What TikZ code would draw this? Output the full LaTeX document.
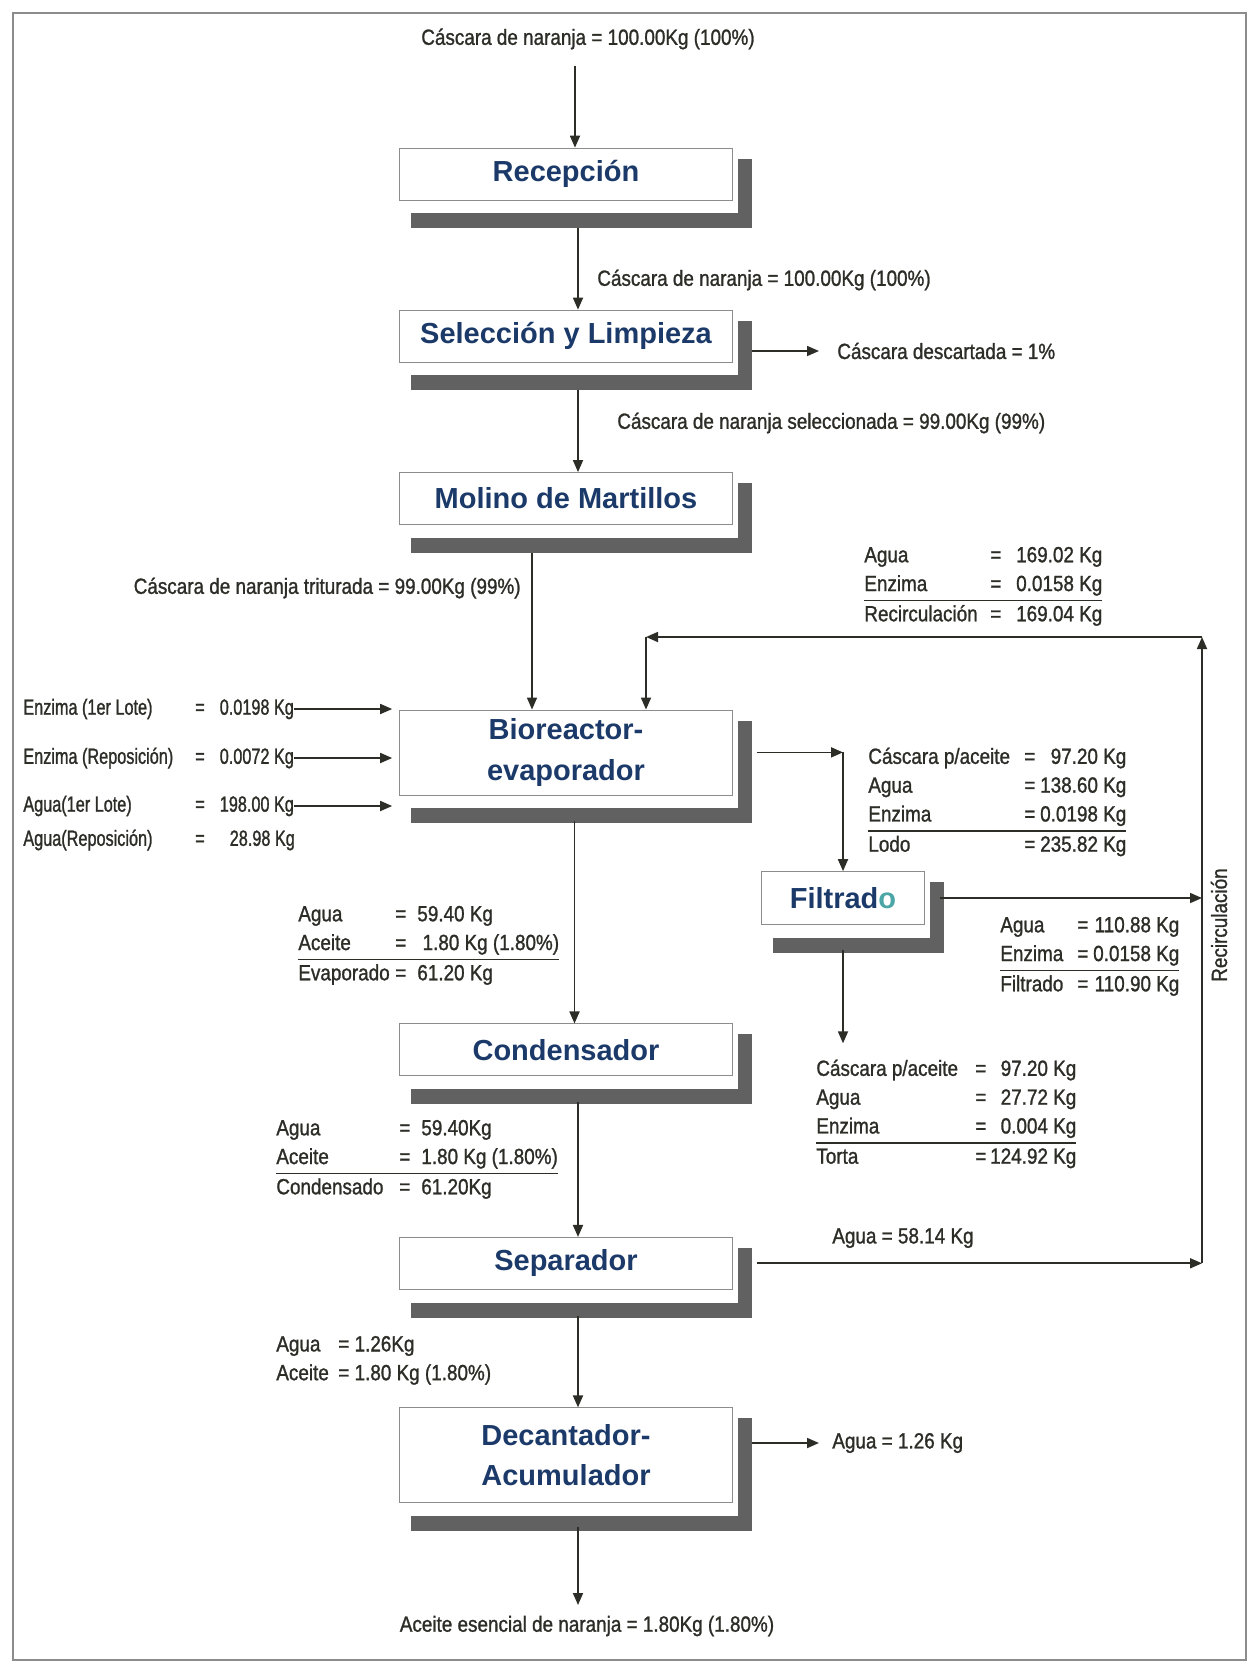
\documentclass[tikz,border=0pt]{standalone}
\usepackage{fontspec}
\usepackage{array}
\setmainfont{Liberation Sans}
\newfontfamily\labelfont[FakeStretch=0.86,FakeBold=1.2]{Liberation Sans}
\newfontfamily\narrowfont[FakeStretch=0.74,FakeBold=1.2]{Liberation Sans}
\usetikzlibrary{arrows.meta,positioning}

\definecolor{boxblue}{RGB}{28,58,105}
\definecolor{inkgray}{RGB}{45,45,40}
\setlength\arrayrulewidth{0.8pt}
\newcolumntype{L}[1]{>{\raggedright\arraybackslash}p{#1}}
\newcolumntype{R}[1]{>{\raggedleft\arraybackslash}p{#1}}
\newcommand\shadowof[1]{%
  \fill[boxshade] ([xshift=.1cm,yshift=-.22cm]#1.north east) rectangle ([xshift=.38cm,yshift=-.56cm]#1.south east);
  \fill[boxshade] ([xshift=.24cm,yshift=-.26cm]#1.south west) rectangle ([xshift=.38cm,yshift=-.56cm]#1.south east);}

\begin{document}
\begin{tikzpicture}[x=0.02cm,y=-0.02cm,node distance=3cm,on grid]
  \tikzstyle{process}=[rectangle,draw=black!45,fill=white,minimum width=6.66cm,
                       minimum height=1.04cm,text=boxblue,align=center,
                       font=\fontsize{16.5}{23}\selectfont\bfseries]
  \tikzstyle{boxshade}=[fill=black!62]
  \tikzstyle{flow}=[draw=inkgray,line width=1pt,-{Triangle[length=0.24cm,width=0.2cm]}]
  \tikzstyle{mass}=[font=\labelfont\fontsize{12.5}{16.4}\selectfont,text=inkgray,inner sep=0pt]
  \tikzstyle{feedin}=[font=\narrowfont\fontsize{12.5}{16.4}\selectfont,text=inkgray,inner sep=0pt,anchor=west]

  \useasboundingbox (0,0) rectangle (1251,1666);
  \draw[black!45,line width=0.7pt] (13,13) rectangle (1246,1660);

  \node[process] (rec) at (566,174) {Recepción};
  \node[process] (sel) [below=3.24cm of rec] {Selección y Limpieza};
  \node[process] (mol) [below=3.25cm of sel] {Molino de Martillos};
  \node[process,minimum height=1.7cm] (bio) [below=5.08cm of mol] {Bioreactor-\\evaporador};
  \node[process] (con) [below=5.95cm of bio] {Condensador};
  \node[process] (sep) [below=4.27cm of con] {Separador};
  \node[process,minimum height=1.9cm] (dec) [below=3.84cm of sep] {Decantador-\\Acumulador};
  \node[process,minimum width=3.26cm,minimum height=1.06cm] (fil) at (843,898) {Filtrad{\color{teal!70}o}};

  \shadowof{rec}
  \shadowof{sel}
  \shadowof{mol}
  \shadowof{bio}
  \shadowof{con}
  \shadowof{sep}
  \shadowof{dec}
  \shadowof{fil}

  \node[mass] (feed) at (588,39) {Cáscara de naranja = 100.00Kg (100\%)};
  \node[mass,anchor=west] (m1) at (597,280) {Cáscara de naranja = 100.00Kg (100\%)};
  \node[mass,anchor=west] (disc) at (837,351) {Cáscara descartada = 1\%};
  \node[mass,anchor=west] (m2) at (617,423) {Cáscara de naranja seleccionada = 99.00Kg (99\%)};
  \node[mass,anchor=east] (m3) at (521,588) {Cáscara de naranja triturada = 99.00Kg (99\%)};

  \node[mass,anchor=west] (recirc) at (864,586) {\begin{tabular}{@{}L{2.52cm}@{}c@{}R{2.02cm}@{}}
    Agua & = & 169.02 Kg\\
    Enzima & = & 0.0158 Kg\\\hline
    Recirculación & = & 169.04 Kg
  \end{tabular}};

  \node[feedin] (enz1) at (23,709) {\makebox[3.44cm][l]{Enzima (1er Lote)}=\hspace{.3cm}0.0198 Kg};
  \node[feedin] (enz2) at (23,758) {\makebox[3.44cm][l]{Enzima (Reposición)}=\hspace{.3cm}0.0072 Kg};
  \node[feedin] (agua1) at (23,806) {\makebox[3.44cm][l]{Agua(1er Lote)}=\hspace{.3cm}198.00 Kg};
  \node[feedin] (agua2) at (23,840) {\makebox[3.44cm][l]{Agua(Reposición)}=\hspace{.5cm}28.98 Kg};

  \node[mass,anchor=west] (lodo) at (868,802) {\begin{tabular}{@{}L{3.12cm}@{}c@{}R{1.82cm}@{}}
    Cáscara p/aceite & = & 97.20 Kg\\
    Agua & = & 138.60 Kg\\
    Enzima & = & 0.0198 Kg\\\hline
    Lodo & = & 235.82 Kg
  \end{tabular}};

  \node[mass,anchor=west] (filout) at (1000,956) {\begin{tabular}{@{}L{1.54cm}@{}c@{}R{1.82cm}@{}}
    Agua & = & 110.88 Kg\\
    Enzima & = & 0.0158 Kg\\\hline
    Filtrado & = & 110.90 Kg
  \end{tabular}};

  \node[mass,anchor=west] (torta) at (816,1114) {\begin{tabular}{@{}L{3.18cm}@{}c@{}R{1.8cm}@{}}
    Cáscara p/aceite & = & 97.20 Kg\\
    Agua & = & 27.72 Kg\\
    Enzima & = & 0.004 Kg\\\hline
    Torta & = & 124.92 Kg
  \end{tabular}};

  \node[mass,anchor=west] (evap) at (298,945) {\begin{tabular}{@{}L{1.94cm}@{}c@{\hspace{.22cm}}l@{}}
    Agua & = & 59.40 Kg\\
    Aceite & = & \ 1.80 Kg (1.80\%)\\\hline
    Evaporado & = & 61.20 Kg
  \end{tabular}};

  \node[mass,anchor=west] (cond) at (276,1159) {\begin{tabular}{@{}L{2.46cm}@{}c@{\hspace{.22cm}}l@{}}
    Agua & = & 59.40Kg\\
    Aceite & = & 1.80 Kg (1.80\%)\\\hline
    Condensado & = & 61.20Kg
  \end{tabular}};

  \node[mass,anchor=west] (sepout) at (276,1360) {\begin{tabular}{@{}L{1.24cm}@{}l@{}}
    Agua & = 1.26Kg\\
    Aceite & = 1.80 Kg (1.80\%)
  \end{tabular}};

  \node[mass,anchor=west] (sepw) at (832,1238) {Agua = 58.14 Kg};
  \node[mass,anchor=west] (decw) at (832,1443) {Agua = 1.26 Kg};
  \node[mass] (oil) at (587,1626) {Aceite esencial de naranja = 1.80Kg (1.80\%)};
  \node[mass,rotate=90] (recl) at (1219,925) {Recirculación};

  \coordinate (inx) at (575,66);
  \coordinate (outx) at (578,1605);
  \coordinate (rtop) at (1202,637);
  \coordinate (rleft) at (646,637);
  \coordinate (bfil) at (bio.east -| fil.north);

  \draw[flow] (inx) -- (inx |- rec.north);
  \draw[flow,shorten <=.56cm] ([xshift=.24cm]rec.south) -- ([xshift=.24cm]sel.north);
  \draw[flow,shorten <=.56cm] ([xshift=.24cm]sel.south) -- ([xshift=.24cm]mol.north);
  \draw[flow,shorten <=.38cm,shorten >=.36cm] (disc.west -| sel.east) -- (disc.west);
  \draw[flow,shorten <=.56cm] ([xshift=-.68cm]mol.south) -- ([xshift=-.68cm]bio.north);

  \draw[flow,shorten >=.14cm] (enz1.east) -- (enz1.east -| bio.west);
  \draw[flow,shorten >=.14cm] (enz2.east) -- (enz2.east -| bio.west);
  \draw[flow,shorten >=.14cm] (agua1.east) -- (agua1.east -| bio.west);

  \draw[flow,shorten <=.48cm] (bio.east) -- (bfil);
  \draw[flow] (bfil) -- (fil.north);
  \draw[flow,shorten <=.5cm,shorten >=.24cm] (fil.south) -- (fil.south |- torta.north);
  \draw[flow,shorten <=.3cm] (fil.east) -- (fil.east -| rtop);

  \draw[flow,shorten <=.52cm] ([xshift=.17cm]bio.south) -- ([xshift=.17cm]con.north);
  \draw[flow,shorten <=.52cm] ([xshift=.24cm]con.south) -- ([xshift=.24cm]sep.north);
  \draw[flow,shorten <=.52cm] ([xshift=.24cm]sep.south) -- ([xshift=.24cm]dec.north);
  \draw[flow,shorten <=.48cm] ([xshift=.24cm]dec.south) -- (outx);
  \draw[flow,shorten <=.38cm,shorten >=.26cm] (decw.west -| dec.east) -- (decw.west);

  \draw[flow,shorten <=.48cm] (sep.east) -- (sep.east -| rtop);
  \draw[flow] (sep.east -| rtop) -- (rtop);
  \draw[flow] (rtop) -- (rleft);
  \draw[flow] (rleft) -- (rleft |- bio.north);
\end{tikzpicture}
\end{document}
